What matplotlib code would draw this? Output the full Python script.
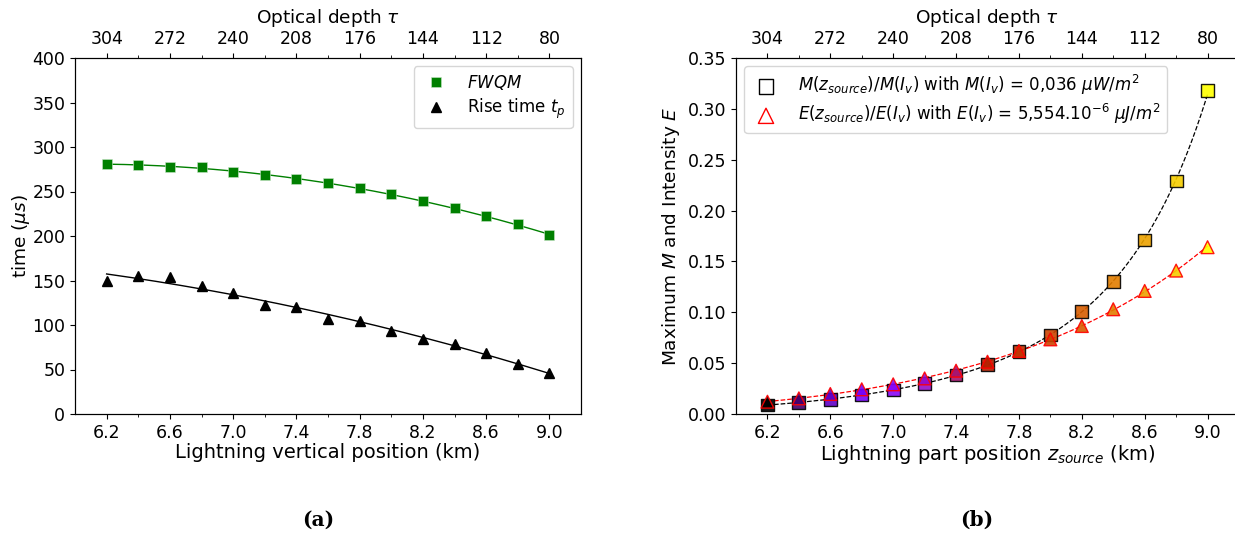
import numpy as np
import matplotlib
matplotlib.use("Agg")
import matplotlib.pyplot as plt
from matplotlib.ticker import MultipleLocator, FixedLocator

# ---------------- data ----------------
z_km = [6.2, 6.4, 6.6, 6.8, 7.0, 7.2, 7.4, 7.6, 7.8, 8.0, 8.2, 8.4, 8.6, 8.8, 9.0]
fwqm = [281, 280, 278, 277, 272, 268, 264, 260, 254, 247, 239, 231, 222, 213, 201]
rise_time = [149, 155, 154, 144, 136, 123, 120, 107, 105, 93, 84, 79, 68, 56, 46]
m_ratio = [0.0088, 0.0115, 0.0144, 0.0187, 0.0236, 0.0300, 0.0383, 0.0488, 0.0613,
           0.0777, 0.1006, 0.1300, 0.1710, 0.2290, 0.3180]
e_ratio = [0.0121, 0.0154, 0.0197, 0.0243, 0.0292, 0.0350, 0.0426, 0.0514, 0.0620,
           0.0734, 0.0865, 0.1030, 0.1210, 0.1410, 0.1640]
tau_ticks_pos = [6.2, 6.6, 7.0, 7.4, 7.8, 8.2, 8.6, 9.0]
tau_labels = ["304", "272", "240", "208", "176", "144", "112", "80"]
bottom_labels = ["6.2", "6.6", "7.0", "7.4", "7.8", "8.2", "8.6", "9.0"]

x = np.array(z_km)
xf = np.linspace(x.min(), x.max(), 200)

FS = 12.5
XL = 14
YL = 13.3
LEG = 12
fig = plt.figure(figsize=(12.35, 5.35), dpi=100)

def style_axes(ax, xlabel):
    ax.set_xlim(6.0, 9.2)
    ax.xaxis.set_major_locator(FixedLocator(tau_ticks_pos))
    ax.set_xticklabels(bottom_labels)
    ax.xaxis.set_minor_locator(FixedLocator(z_km))
    ax.tick_params(axis='both', which='major', labelsize=FS)
    ax.set_xlabel(xlabel, fontsize=XL, labelpad=1)
    top = ax.twiny()
    top.set_xlim(ax.get_xlim())
    top.xaxis.set_major_locator(FixedLocator(tau_ticks_pos))
    top.set_xticklabels(tau_labels)
    top.xaxis.set_minor_locator(FixedLocator(z_km))
    top.tick_params(axis='x', which='major', labelsize=FS)
    top.set_xlabel(r"Optical depth $\tau$", fontsize=13.3, labelpad=5)
    return top

# ---------------- (a) ----------------
ax1 = fig.add_axes([75/1235, 121/535, 506/1235, 356/535])
c_f = np.polyfit(x, fwqm, 2)
c_r = np.polyfit(x, rise_time, 2)
ax1.plot(xf, np.polyval(c_f, xf), color='green', lw=1)
ax1.plot(xf, np.polyval(c_r, xf), color='black', lw=1)
ax1.plot(x, fwqm, 's', color='green', ms=7, mec='#c8e6c8', mew=0.4, label=r"$FWQM$")
ax1.plot(x, rise_time, '^', color='black', ms=7, label=r"Rise time $t_p$")
ax1.set_ylim(0, 400)
ax1.yaxis.set_major_locator(MultipleLocator(50))
ax1.set_ylabel(r"time ($\mu s$)", fontsize=YL, labelpad=0)
style_axes(ax1, "Lightning vertical position (km)")
ax1.legend(loc='upper right', fontsize=LEG, handlelength=1.8, borderpad=0.4,
           labelspacing=0.3, handletextpad=1.0)

# ---------------- (b) ----------------
ax2 = fig.add_axes([736/1235, 121/535, 503/1235, 356/535])
cmap = plt.get_cmap('gnuplot')
cols = [cmap(i / (len(x) - 1)) for i in range(len(x))]
c_m = np.polyfit(x, np.log(m_ratio), 3)
c_e = np.polyfit(x, np.log(e_ratio), 3)
ax2.plot(xf, np.exp(np.polyval(c_m, xf)), '--', color='black', lw=0.9)
ax2.plot(xf, np.exp(np.polyval(c_e, xf)), '--', color='red', lw=0.9)
ax2.scatter(x, m_ratio, marker='s', s=85, c=cols, edgecolors='black', linewidths=1.0,
            zorder=3, alpha=0.9)
ax2.scatter(x, e_ratio, marker='^', s=85, c=cols, edgecolors='red', linewidths=1.0,
            zorder=4, alpha=0.9)
h1 = ax2.scatter([], [], marker='s', s=110, facecolors='none', edgecolors='black', linewidths=1.0)
h2 = ax2.scatter([], [], marker='^', s=120, facecolors='none', edgecolors='red', linewidths=1.0)
ax2.set_ylim(0, 0.35)
ax2.set_yticks(np.arange(0, 0.351, 0.05))
ax2.set_yticklabels([f"{v:.2f}" for v in np.arange(0, 0.351, 0.05)])
ax2.set_ylabel(r"Maximum $M$ and Intensity $E$", fontsize=YL, labelpad=4)
style_axes(ax2, r"Lightning part position $z_{source}$ (km)")
ax2.legend([h1, h2],
           [r"$M(z_{source})/M(I_v)$ with $M(I_v)$ = 0,036 $\mu W/m^2$",
            r"$E(z_{source})/E(I_v)$ with $E(I_v)$ = 5,554.10$^{-6}$ $\mu J/m^2$"],
           loc='upper left', fontsize=LEG, borderpad=0.4, labelspacing=0.3,
           handlelength=1.8, handletextpad=1.0)

fig.text(318/1235, 1 - 520/535, "(a)", fontsize=14.5, fontweight='bold',
         family='DejaVu Serif', ha='center', va='center')
fig.text(977/1235, 1 - 520/535, "(b)", fontsize=14.5, fontweight='bold',
         family='DejaVu Serif', ha='center', va='center')

fig.savefig("out.png", dpi=100)
